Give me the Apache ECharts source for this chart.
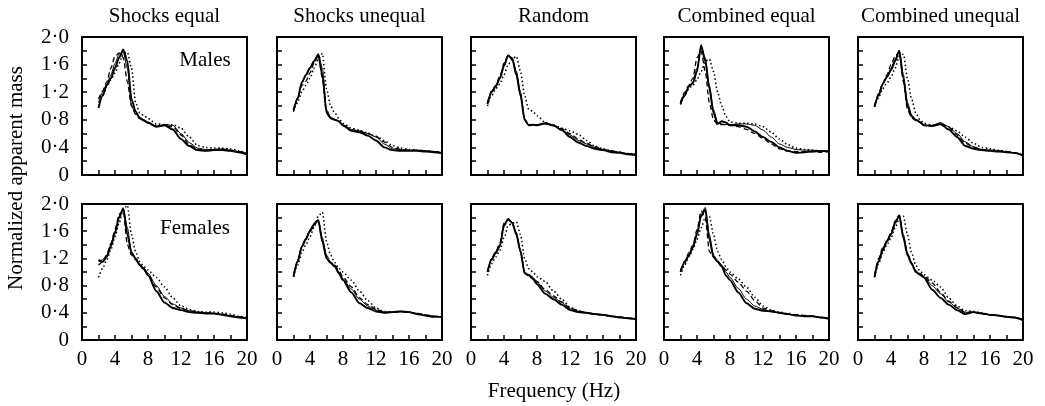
<!DOCTYPE html>
<html>
<head>
<meta charset="utf-8">
<script src="https://cdn.jsdelivr.net/npm/echarts@6/dist/echarts.min.js"></script>
<style>
  html, body { margin: 0; padding: 0; background: #fff; }
  #chart { width: 1045px; height: 406px; }
</style>
</head>
<body>
<div id="chart"></div>
<script>
// frequency points (Hz) shared by every curve
const freq = [2, 2.5, 3, 3.5, 4, 4.5, 5, 5.5, 6, 6.5, 7, 7.5, 8, 9, 10, 11, 12, 13, 14, 15, 16, 17, 18, 19, 20]

const panelTitles = ['Shocks equal', 'Shocks unequal', 'Random', 'Combined equal', 'Combined unequal']
const rowLabels = ['Males', 'Females']

// each panel: [thick solid, thin solid, dashed, dotted]
const malesShocksEqual = [
  [0.97, 1.15, 1.30, 1.40, 1.55, 1.70, 1.82, 1.65, 1.10, 0.92, 0.82, 0.79, 0.76, 0.70, 0.72, 0.66, 0.52, 0.42, 0.36, 0.35, 0.36, 0.36, 0.35, 0.33, 0.30],
  [1.05, 1.20, 1.32, 1.45, 1.62, 1.75, 1.78, 1.55, 1.00, 0.88, 0.84, 0.80, 0.76, 0.71, 0.73, 0.72, 0.60, 0.47, 0.39, 0.37, 0.37, 0.38, 0.36, 0.34, 0.31],
  [1.10, 1.22, 1.35, 1.55, 1.72, 1.77, 1.70, 1.35, 1.00, 0.88, 0.82, 0.78, 0.75, 0.70, 0.72, 0.70, 0.58, 0.44, 0.37, 0.36, 0.37, 0.37, 0.36, 0.34, 0.31],
  [1.00, 1.15, 1.28, 1.38, 1.48, 1.62, 1.76, 1.78, 1.55, 1.05, 0.90, 0.86, 0.82, 0.74, 0.73, 0.73, 0.68, 0.55, 0.43, 0.40, 0.39, 0.39, 0.38, 0.35, 0.32]
]
const malesShocksUnequal = [
  [0.95, 1.10, 1.34, 1.45, 1.55, 1.65, 1.74, 1.45, 0.90, 0.82, 0.80, 0.78, 0.72, 0.64, 0.62, 0.57, 0.50, 0.40, 0.36, 0.35, 0.35, 0.35, 0.34, 0.33, 0.32],
  [0.92, 1.12, 1.33, 1.44, 1.56, 1.66, 1.76, 1.55, 0.95, 0.84, 0.81, 0.77, 0.71, 0.66, 0.64, 0.60, 0.55, 0.45, 0.38, 0.37, 0.36, 0.36, 0.35, 0.34, 0.32],
  [0.93, 1.12, 1.30, 1.36, 1.48, 1.62, 1.74, 1.40, 0.92, 0.83, 0.80, 0.77, 0.72, 0.66, 0.63, 0.60, 0.56, 0.48, 0.40, 0.37, 0.36, 0.36, 0.35, 0.34, 0.32],
  [0.92, 1.05, 1.20, 1.30, 1.40, 1.55, 1.68, 1.76, 1.25, 1.00, 0.90, 0.82, 0.75, 0.68, 0.65, 0.61, 0.56, 0.50, 0.43, 0.39, 0.37, 0.36, 0.35, 0.34, 0.32]
]
const malesRandom = [
  [1.03, 1.20, 1.28, 1.40, 1.58, 1.73, 1.68, 1.45, 1.15, 0.80, 0.72, 0.73, 0.72, 0.75, 0.72, 0.65, 0.55, 0.47, 0.42, 0.38, 0.36, 0.33, 0.32, 0.30, 0.29],
  [1.05, 1.22, 1.30, 1.42, 1.60, 1.74, 1.70, 1.50, 1.20, 0.82, 0.72, 0.72, 0.73, 0.74, 0.71, 0.66, 0.58, 0.50, 0.45, 0.40, 0.37, 0.35, 0.33, 0.31, 0.30],
  [1.04, 1.22, 1.30, 1.43, 1.62, 1.74, 1.69, 1.48, 1.18, 0.80, 0.73, 0.73, 0.73, 0.75, 0.72, 0.67, 0.60, 0.52, 0.46, 0.41, 0.37, 0.35, 0.33, 0.31, 0.30],
  [1.00, 1.15, 1.25, 1.32, 1.45, 1.60, 1.68, 1.72, 1.50, 1.15, 0.95, 0.92, 0.86, 0.76, 0.72, 0.68, 0.64, 0.59, 0.50, 0.42, 0.38, 0.35, 0.33, 0.31, 0.30]
]
const malesCombinedEqual = [
  [1.03, 1.15, 1.28, 1.33, 1.50, 1.88, 1.65, 1.25, 0.90, 0.74, 0.78, 0.76, 0.72, 0.72, 0.70, 0.63, 0.55, 0.48, 0.40, 0.35, 0.32, 0.33, 0.34, 0.35, 0.34],
  [1.05, 1.18, 1.28, 1.35, 1.55, 1.85, 1.70, 1.30, 0.95, 0.76, 0.74, 0.73, 0.73, 0.74, 0.74, 0.72, 0.65, 0.55, 0.45, 0.40, 0.37, 0.36, 0.36, 0.35, 0.35],
  [1.05, 1.20, 1.30, 1.40, 1.70, 1.80, 1.50, 1.05, 0.80, 0.73, 0.73, 0.73, 0.72, 0.70, 0.66, 0.60, 0.53, 0.45, 0.38, 0.35, 0.34, 0.34, 0.34, 0.33, 0.34],
  [1.02, 1.15, 1.25, 1.30, 1.38, 1.50, 1.65, 1.68, 1.50, 1.20, 1.00, 0.85, 0.77, 0.75, 0.75, 0.74, 0.70, 0.62, 0.52, 0.44, 0.39, 0.37, 0.36, 0.35, 0.35]
]
const malesCombinedUnequal = [
  [0.99, 1.15, 1.32, 1.42, 1.52, 1.65, 1.80, 1.40, 1.00, 0.85, 0.80, 0.77, 0.72, 0.71, 0.74, 0.66, 0.55, 0.42, 0.38, 0.36, 0.35, 0.34, 0.33, 0.32, 0.28],
  [1.00, 1.17, 1.32, 1.42, 1.55, 1.68, 1.80, 1.45, 1.05, 0.87, 0.80, 0.76, 0.72, 0.72, 0.76, 0.70, 0.60, 0.48, 0.41, 0.37, 0.36, 0.35, 0.34, 0.32, 0.29],
  [1.00, 1.18, 1.33, 1.45, 1.60, 1.72, 1.78, 1.35, 0.95, 0.83, 0.79, 0.76, 0.72, 0.71, 0.74, 0.69, 0.58, 0.46, 0.40, 0.37, 0.36, 0.35, 0.34, 0.32, 0.29],
  [0.99, 1.12, 1.25, 1.33, 1.42, 1.55, 1.72, 1.75, 1.40, 1.10, 0.90, 0.80, 0.75, 0.72, 0.73, 0.70, 0.64, 0.55, 0.46, 0.40, 0.38, 0.36, 0.34, 0.32, 0.29]
]
const femalesShocksEqual = [
  [1.18, 1.15, 1.22, 1.38, 1.57, 1.80, 1.94, 1.55, 1.28, 1.20, 1.10, 1.04, 0.95, 0.72, 0.55, 0.47, 0.44, 0.41, 0.40, 0.39, 0.39, 0.37, 0.35, 0.33, 0.32],
  [1.15, 1.18, 1.25, 1.40, 1.60, 1.82, 1.93, 1.65, 1.30, 1.20, 1.12, 1.06, 0.98, 0.80, 0.64, 0.53, 0.47, 0.43, 0.41, 0.40, 0.39, 0.38, 0.35, 0.34, 0.32],
  [1.10, 1.15, 1.25, 1.42, 1.62, 1.85, 1.90, 1.40, 1.25, 1.18, 1.10, 1.03, 0.96, 0.78, 0.62, 0.52, 0.46, 0.43, 0.41, 0.40, 0.39, 0.38, 0.36, 0.34, 0.33],
  [0.92, 1.05, 1.18, 1.33, 1.52, 1.72, 1.92, 1.98, 1.55, 1.30, 1.15, 1.08, 1.03, 0.92, 0.78, 0.62, 0.50, 0.45, 0.42, 0.41, 0.41, 0.40, 0.38, 0.35, 0.33]
]
const femalesShocksUnequal = [
  [0.93, 1.15, 1.37, 1.48, 1.60, 1.70, 1.76, 1.45, 1.20, 1.13, 1.08, 0.98, 0.88, 0.70, 0.54, 0.47, 0.42, 0.40, 0.41, 0.42, 0.41, 0.38, 0.36, 0.34, 0.34],
  [0.95, 1.17, 1.38, 1.50, 1.62, 1.71, 1.77, 1.50, 1.25, 1.15, 1.10, 1.00, 0.90, 0.75, 0.60, 0.50, 0.44, 0.41, 0.41, 0.42, 0.41, 0.39, 0.36, 0.35, 0.34],
  [0.95, 1.16, 1.36, 1.50, 1.62, 1.72, 1.76, 1.45, 1.22, 1.14, 1.10, 1.02, 0.93, 0.78, 0.62, 0.52, 0.45, 0.41, 0.41, 0.42, 0.41, 0.39, 0.37, 0.35, 0.34],
  [0.93, 1.10, 1.28, 1.40, 1.52, 1.66, 1.82, 1.88, 1.45, 1.25, 1.14, 1.05, 1.00, 0.88, 0.72, 0.58, 0.47, 0.42, 0.41, 0.42, 0.41, 0.39, 0.37, 0.35, 0.34]
]
const femalesRandom = [
  [1.00, 1.18, 1.28, 1.38, 1.68, 1.78, 1.72, 1.55, 1.30, 0.98, 0.95, 0.90, 0.82, 0.68, 0.60, 0.52, 0.44, 0.41, 0.40, 0.38, 0.37, 0.35, 0.33, 0.32, 0.31],
  [1.02, 1.20, 1.30, 1.40, 1.70, 1.78, 1.73, 1.58, 1.32, 1.00, 0.96, 0.92, 0.85, 0.72, 0.63, 0.55, 0.46, 0.42, 0.40, 0.38, 0.37, 0.35, 0.34, 0.32, 0.31],
  [1.00, 1.20, 1.30, 1.42, 1.72, 1.77, 1.72, 1.56, 1.30, 0.98, 0.96, 0.92, 0.86, 0.74, 0.65, 0.56, 0.47, 0.43, 0.40, 0.38, 0.37, 0.35, 0.34, 0.32, 0.31],
  [0.95, 1.12, 1.22, 1.32, 1.50, 1.68, 1.72, 1.74, 1.55, 1.20, 1.05, 1.00, 0.93, 0.86, 0.72, 0.60, 0.48, 0.43, 0.40, 0.38, 0.37, 0.35, 0.34, 0.32, 0.31]
]
const femalesCombinedEqual = [
  [1.00, 1.14, 1.24, 1.36, 1.55, 1.82, 1.92, 1.48, 1.22, 1.15, 1.08, 0.95, 0.88, 0.70, 0.54, 0.46, 0.43, 0.42, 0.40, 0.38, 0.36, 0.35, 0.35, 0.33, 0.31],
  [1.02, 1.15, 1.26, 1.38, 1.58, 1.85, 1.95, 1.55, 1.25, 1.17, 1.10, 1.00, 0.92, 0.76, 0.60, 0.50, 0.45, 0.42, 0.40, 0.38, 0.37, 0.35, 0.35, 0.33, 0.32],
  [1.02, 1.16, 1.28, 1.40, 1.62, 1.90, 1.80, 1.30, 1.22, 1.15, 1.10, 1.03, 0.97, 0.85, 0.72, 0.58, 0.47, 0.43, 0.40, 0.38, 0.37, 0.36, 0.35, 0.33, 0.32],
  [0.95, 1.10, 1.22, 1.33, 1.48, 1.65, 1.80, 1.82, 1.55, 1.30, 1.18, 1.08, 1.00, 0.90, 0.78, 0.63, 0.50, 0.44, 0.41, 0.39, 0.37, 0.36, 0.35, 0.33, 0.32]
]
const femalesCombinedUnequal = [
  [0.92, 1.15, 1.32, 1.45, 1.55, 1.72, 1.83, 1.50, 1.25, 1.12, 1.00, 0.96, 0.92, 0.74, 0.62, 0.52, 0.44, 0.38, 0.41, 0.39, 0.37, 0.36, 0.34, 0.33, 0.29],
  [0.95, 1.17, 1.34, 1.47, 1.57, 1.73, 1.84, 1.55, 1.28, 1.14, 1.02, 0.97, 0.93, 0.80, 0.68, 0.56, 0.47, 0.40, 0.41, 0.39, 0.37, 0.36, 0.34, 0.33, 0.30],
  [0.95, 1.20, 1.36, 1.45, 1.58, 1.75, 1.83, 1.52, 1.26, 1.13, 1.02, 0.98, 0.94, 0.84, 0.70, 0.57, 0.48, 0.41, 0.41, 0.39, 0.37, 0.36, 0.34, 0.33, 0.30],
  [0.93, 1.12, 1.28, 1.40, 1.50, 1.65, 1.78, 1.82, 1.55, 1.28, 1.10, 1.02, 0.96, 0.88, 0.78, 0.62, 0.50, 0.43, 0.42, 0.40, 0.37, 0.36, 0.35, 0.33, 0.30]
]

const panels = [
  malesShocksEqual, malesShocksUnequal, malesRandom, malesCombinedEqual, malesCombinedUnequal,
  femalesShocksEqual, femalesShocksUnequal, femalesRandom, femalesCombinedEqual, femalesCombinedUnequal
]

// layout of the 2 x 5 boxes
const colLeft = [82, 277, 471, 664, 858]
const rowTop = [37, 204]
const rowHeight = [138, 136]
const boxWidth = 165

const font = 'Liberation Serif'
const fontSize = 21
const lineStyles = [
  { color: '#000', width: 1.9, type: 'solid' },
  { color: '#000', width: 1, type: 'solid' },
  { color: '#000', width: 1.3, type: [5, 3] },
  { color: '#000', width: 1.5, type: [1.5, 2.5] }
]

const grids = []
const xAxes = []
const yAxes = []
const series = []

panels.forEach((curves, i) => {
  const row = Math.floor(i / 5)
  const col = i % 5
  grids.push({
    left: colLeft[col],
    top: rowTop[row],
    width: boxWidth,
    height: rowHeight[row],
    show: true,
    borderColor: '#000',
    borderWidth: 2,
    backgroundColor: 'transparent'
  })
  xAxes.push({
    gridIndex: i,
    type: 'value',
    min: 0,
    max: 20,
    interval: 2,
    axisLine: { show: true, lineStyle: { color: '#000', width: 2 } },
    axisTick: { show: true, inside: true, length: 5, lineStyle: { color: '#000', width: 1.5 } },
    axisLabel: {
      show: row === 1,
      color: '#000',
      fontFamily: font,
      fontSize: fontSize,
      margin: 9,
      formatter: v => (v % 4 === 0 ? String(v) : '')
    },
    splitLine: { show: false }
  })
  yAxes.push({
    gridIndex: i,
    type: 'value',
    min: 0,
    max: 2,
    interval: 0.2,
    axisLine: { show: true, lineStyle: { color: '#000', width: 2 } },
    axisTick: { show: true, inside: true, length: 5, lineStyle: { color: '#000', width: 1.5 } },
    axisLabel: {
      show: col === 0,
      color: '#000',
      fontFamily: font,
      fontSize: fontSize,
      margin: 13,
      formatter: v => {
        const t = Math.round(v * 10)
        if (t % 4 !== 0) return ''
        if (t === 0) return '0'
        return (t / 10).toFixed(1).replace('.', '·')
      }
    },
    splitLine: { show: false }
  })
  curves.forEach((vals, k) => {
    series.push({
      type: 'line',
      xAxisIndex: i,
      yAxisIndex: i,
      data: freq.map((f, j) => [f, vals[j]]),
      symbol: 'none',
      smooth: 0.25,
      smoothMonotone: 'x',
      lineStyle: lineStyles[k],
      silent: true
    })
  })
})

// column titles, row labels and axis names
const textFont = fontSize + 'px "' + font + '"'
const texts = []
panelTitles.forEach((t, c) => {
  texts.push({
    type: 'text',
    x: colLeft[c] + boxWidth / 2,
    y: 16,
    style: { text: t, fill: '#000', font: textFont, textAlign: 'center', textVerticalAlign: 'middle' }
  })
})
texts.push({
  type: 'text', x: 205, y: 60,
  style: { text: rowLabels[0], fill: '#000', font: textFont, textAlign: 'center', textVerticalAlign: 'middle' }
})
texts.push({
  type: 'text', x: 195, y: 228,
  style: { text: rowLabels[1], fill: '#000', font: textFont, textAlign: 'center', textVerticalAlign: 'middle' }
})
texts.push({
  type: 'text', x: 16, y: 178, rotation: Math.PI / 2,
  style: { text: 'Normalized apparent mass', fill: '#000', font: textFont, textAlign: 'center', textVerticalAlign: 'middle' }
})
texts.push({
  type: 'text', x: 554, y: 391,
  style: { text: 'Frequency (Hz)', fill: '#000', font: textFont, textAlign: 'center', textVerticalAlign: 'middle' }
})

const myChart = echarts.init(document.getElementById('chart'))
myChart.setOption({
  animation: false,
  backgroundColor: '#fff',
  grid: grids,
  xAxis: xAxes,
  yAxis: yAxes,
  series: series,
  graphic: texts
})
</script>
</body>
</html>
